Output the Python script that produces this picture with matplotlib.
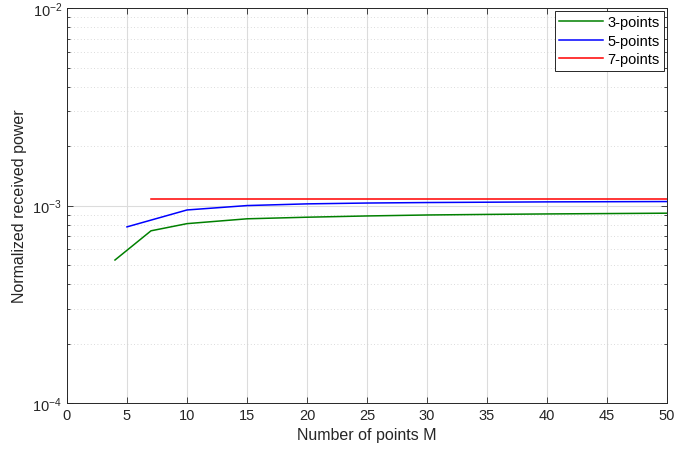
import matplotlib
matplotlib.use("Agg")
import matplotlib.pyplot as plt
from matplotlib.ticker import LogLocator, NullFormatter

plt.rcParams["font.family"] = ["Liberation Sans", "DejaVu Sans"]

# received power vs number of points M, for each interpolation order
m_3pts = [4, 7, 10, 15, 20, 25, 30, 35, 40, 45, 50]
p_3pts = [5.3e-4, 7.45e-4, 8.1e-4, 8.57e-4, 8.73e-4, 8.86e-4, 8.96e-4, 9.02e-4, 9.07e-4, 9.11e-4, 9.15e-4]

m_5pts = [5, 10, 15, 20, 25, 30, 35, 40, 45, 50]
p_5pts = [7.8e-4, 9.5e-4, 1.0e-3, 1.02e-3, 1.03e-3, 1.036e-3, 1.04e-3, 1.044e-3, 1.046e-3, 1.048e-3]

m_7pts = [7, 10, 20, 30, 40, 50]
p_7pts = [1.082e-3, 1.082e-3, 1.082e-3, 1.082e-3, 1.082e-3, 1.082e-3]

x_ticks = [0, 5, 10, 15, 20, 25, 30, 35, 40, 45, 50]

fig = plt.figure(figsize=(6.89, 4.56), dpi=100)
ax = fig.add_axes([0.0972, 0.114, 0.871, 0.866])

ax.plot(m_3pts, p_3pts, color=(0, 0.5, 0), lw=1.1, label="3-points")
ax.plot(m_5pts, p_5pts, color=(0, 0, 1), lw=1.1, label="5-points")
ax.plot(m_7pts, p_7pts, color=(1, 0, 0), lw=1.1, label="7-points")

ax.set_yscale("log")
ax.set_xlim(0, 50)
ax.set_ylim(1e-4, 1e-2)
ax.set_xticks(x_ticks)
ax.yaxis.set_major_locator(LogLocator(base=10, numticks=5))
ax.yaxis.set_minor_locator(LogLocator(base=10, subs=range(2, 10), numticks=20))
ax.yaxis.set_minor_formatter(NullFormatter())

ax.grid(True, which="major", color="#dcdcdc", lw=0.8)
ax.grid(True, which="minor", axis="y", color="#cfcfcf", lw=0.6, ls=(0, (1, 3)))
ax.set_axisbelow(True)

ax.tick_params(which="both", direction="in", top=True, right=True,
               labelsize=10.5, colors="#262626", width=0.6)
ax.tick_params(which="major", length=4)
ax.tick_params(which="minor", length=2.5)
for s in ax.spines.values():
    s.set_color("#262626")
    s.set_linewidth(0.7)

ax.set_xlabel("Number of points M", fontsize=11.5, color="#262626")
ax.set_ylabel("Normalized received power", fontsize=11.5, color="#262626")

leg = ax.legend(loc="upper right", fontsize=10.5, fancybox=False, framealpha=1,
                edgecolor="#262626", borderaxespad=0.2, handlelength=3.0,
                handletextpad=0.3, labelspacing=0.3, borderpad=0.3)
leg.get_frame().set_linewidth(0.7)

fig.savefig("out.png", dpi=100)
